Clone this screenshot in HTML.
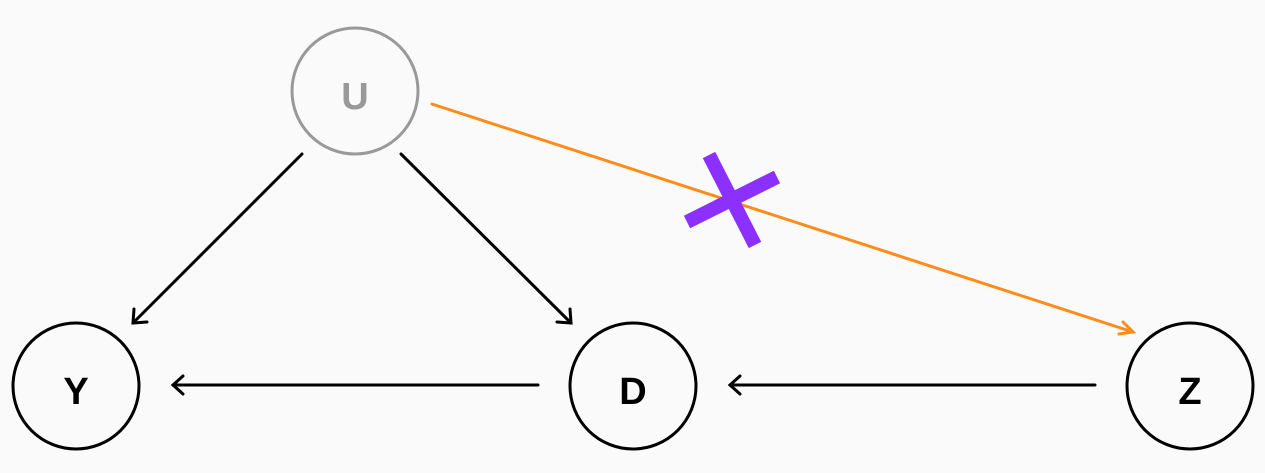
<!DOCTYPE html>
<html><head><style>html,body{margin:0;padding:0;background:#fafafa;}svg{display:block}</style></head>
<body>
<svg width="1265" height="473" viewBox="0 0 1265 473" xmlns="http://www.w3.org/2000/svg">
<rect width="1265" height="473" fill="#fafafa"/>
<g fill="none" stroke-width="3" stroke-linecap="round" stroke-linejoin="miter">
<circle cx="355" cy="91" r="63" stroke="#999"/>
<circle cx="76" cy="386" r="63" stroke="#000"/>
<circle cx="633" cy="386" r="63" stroke="#000"/>
<circle cx="1190" cy="386" r="63" stroke="#000"/>
<g stroke="#000">
<line x1="302" y1="154" x2="133" y2="323"/><polyline points="134,309 133,323 147,322"/>
<line x1="401" y1="154" x2="571" y2="323"/><polyline points="557,322 571,323 570,309"/>
<line x1="538" y1="385" x2="173" y2="385"/><polyline points="183,376 173,385 183,394"/>
<line x1="1095" y1="385" x2="730" y2="385"/><polyline points="740,376 730,385 740,394"/>
</g>
<g stroke="#ff8c1a">
<line x1="432" y1="104" x2="1133" y2="332"/><polyline points="1123,322 1133,332 1119,334"/>
</g>
</g>
<g stroke="#8c30ff" stroke-width="14">
<line x1="709" y1="155" x2="755" y2="245"/>
<line x1="687" y1="222" x2="777" y2="177"/>
</g>
<g font-family="Liberation Sans, sans-serif" font-weight="bold" font-size="38" text-anchor="middle">
<text x="355" y="109" fill="#999">U</text>
<text x="76" y="404" fill="#000">Y</text>
<text x="633" y="404" fill="#000">D</text>
<text x="1190" y="404" fill="#000">Z</text>
</g>
</svg>
</body></html>
